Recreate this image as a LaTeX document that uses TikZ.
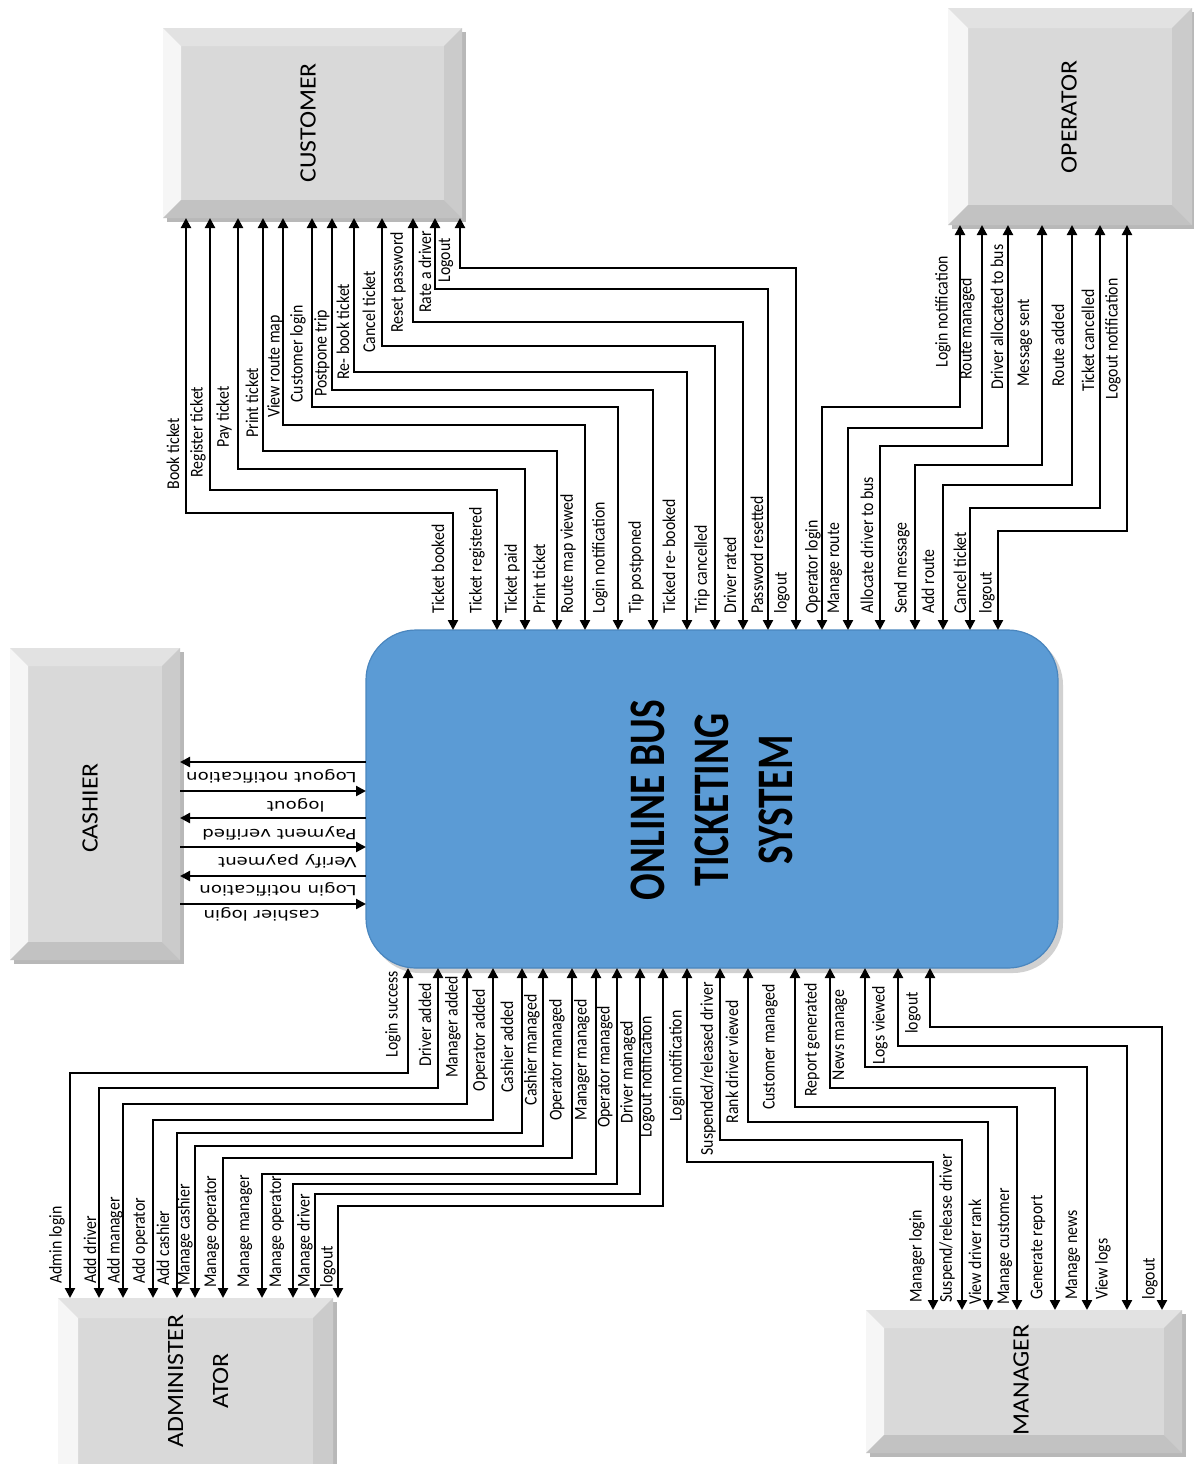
\documentclass[tikz,border=0pt]{standalone}
\usepackage{fontspec}
\usetikzlibrary{arrows.meta,fit}
\newfontfamily\lblfont[FakeStretch=0.88]{Carlito}
\newfontfamily\boxfont[FakeStretch=1.1]{Carlito}
\newfontfamily\titlefont[FakeStretch=0.77]{Carlito}
\newfontfamily\cashfont[FakeStretch=1.3]{DejaVu Sans}
\definecolor{sysblue}{HTML}{5B9BD5}
\definecolor{sysedge}{HTML}{4A86BE}
\definecolor{bface}{HTML}{D9D9D9}
\definecolor{btop}{HTML}{E2E2E2}
\definecolor{bleft}{HTML}{F6F6F6}
\definecolor{bright}{HTML}{CBCBCB}
\definecolor{bbot}{HTML}{C2C2C2}
\definecolor{bshadow}{HTML}{B8B8B8}
\newcounter{lbn}
\newcommand{\dlab}[3]{\stepcounter{lbn}\node[lbl] (t\arabic{lbn}) at (#1,#2) {#3};}
\newcommand{\dlabc}[3]{\stepcounter{lbn}\node[lblc] (t\arabic{lbn}) at (#1,#2) {#3};}
\newcommand{\dlabk}[3]{\stepcounter{lbn}\node[cashlbl] (t\arabic{lbn}) at (#1,#2) {#3};}
\newcommand{\dflow}[5]{\draw[flow] (#2,0 |- #1) -- (#2,#3) -- (#4,#3) -- (#4,0 |- #5);}
\newcommand{\bevbox}[5]{%
  \fill[bshadow] (#1+4,#2+4) rectangle (#3+4,#4+4);
  \fill[bface] (#1,#2) rectangle (#3,#4);
  \fill[btop] (#1,#2) -- (#3,#2) -- (#3-#5,#2+#5) -- (#1+#5,#2+#5) -- cycle;
  \fill[bleft] (#1,#2) -- (#1+#5,#2+#5) -- (#1+#5,#4-#5) -- (#1,#4) -- cycle;
  \fill[bright] (#3,#2) -- (#3,#4) -- (#3-#5,#4-#5) -- (#3-#5,#2+#5) -- cycle;
  \fill[bbot] (#1,#4) -- (#3,#4) -- (#3-#5,#4-#5) -- (#1+#5,#4-#5) -- cycle;
}
\begin{document}
\begin{tikzpicture}[x=0.5pt,y=-0.5pt,
  >={Triangle[length=5pt,width=5pt]},
  flow/.style={line width=1.1pt,<->},
  cflow/.style={line width=1.1pt},
  lbl/.style={rotate=90,anchor=west,inner sep=0pt,font=\lblfont\fontsize{9}{10}\selectfont},
  lblc/.style={lbl,anchor=center},
  cashlbl/.style={rotate=180,anchor=west,inner sep=0pt,font=\cashfont\fontsize{7}{8}\selectfont},
  boxlbl/.style={rotate=90,inner sep=0pt,align=center,font=\boxfont\fontsize{11.7}{22.5}\selectfont},
  hold/.style={inner sep=0pt,outer sep=0pt}]
\useasboundingbox (0,0) rectangle (1194,1464);
\clip (0,0) rectangle (1194,1464);
\fill[white] (0,0) rectangle (1194,1464);

% ---- external entity boxes
\bevbox{163}{28}{462}{218}{18}
\node[hold,fit={(163,28) (462,218)}] (cust) {};
\node[boxlbl] (custl) at (308,123) {CUSTOMER};

\bevbox{948}{8}{1192}{225}{20}
\node[hold,fit={(948,8) (1192,225)}] (oper) {};
\node[boxlbl] (operl) at (1069,117) {OPERATOR};

\bevbox{10}{648}{180}{960}{18}
\node[hold,fit={(10,648) (180,960)}] (cash) {};
\node[boxlbl] (cashl) at (90,808) {CASHIER};

\bevbox{58}{1298}{333}{1490}{20}
\node[hold,fit={(58,1298) (333,1490)}] (adm) {};
\node[boxlbl] (adml) at (198,1381) {ADMINISTER\\ATOR};

\bevbox{866}{1310}{1182}{1453}{18}
\node[hold,fit={(866,1310) (1182,1453)}] (mgr) {};
\node[boxlbl] (mgrl) at (1021,1380) {MANAGER};

% ---- central process
\fill[black!18,rounded corners=25pt] (370,635) rectangle (1063,973);
\node[hold,fit={(366,630) (1058,968)},rounded corners=25pt,fill=sysblue,draw=sysedge,line width=0.6pt] (sys) {};
\node[rotate=90,align=center,inner sep=0pt,font=\titlefont\bfseries\fontsize{25.6}{32}\selectfont] (title) at (712,800) {ONLINE BUS\\TICKETING\\SYSTEM};

% ---- customer flows
\dflow{cust.south}{186}{513}{453}{sys.north}
\dflow{cust.south}{210}{490}{497}{sys.north}
\dflow{cust.south}{238}{469}{525}{sys.north}
\dflow{cust.south}{263}{451}{557}{sys.north}
\dflow{cust.south}{283}{425}{585}{sys.north}
\dflow{cust.south}{312}{407}{618}{sys.north}
\dflow{cust.south}{332}{390}{653}{sys.north}
\dflow{cust.south}{354}{372}{687}{sys.north}
\dflow{cust.south}{382}{346}{715}{sys.north}
\dflow{cust.south}{413}{322}{743}{sys.north}
\dflow{cust.south}{435}{289}{768}{sys.north}
\dflow{cust.south}{460}{268}{796}{sys.north}

\dlab{173}{490}{Book ticket}
\dlab{198}{478}{Register ticket}
\dlab{224}{448}{Pay ticket}
\dlab{252}{438}{Print ticket}
\dlab{275}{418}{View route map}
\dlab{298}{403}{Customer login}
\dlab{322}{397}{Postpone trip}
\dlab{343}{380}{Re- book ticket}
\dlab{369}{353}{Cancel ticket}
\dlab{398}{333}{Reset password}
\dlab{425}{313}{Rate a driver}
\dlab{446}{283}{Logout}

\dlab{438}{614}{Ticket booked}
\dlab{477}{614}{Ticket registered}
\dlab{512}{614}{Ticket paid}
\dlab{539}{614}{Print ticket}
\dlab{568}{614}{Route map viewed}
\dlab{600}{614}{Login notification}
\dlab{636}{614}{Tip postponed}
\dlab{669}{614}{Ticked re- booked}
\dlab{702}{614}{Trip cancelled}
\dlab{730}{614}{Driver rated}
\dlab{757}{614}{Password resetted}
\dlab{782}{614}{logout}

% ---- operator flows
\dflow{oper.south}{960}{407}{822}{sys.north}
\dflow{oper.south}{982}{428}{848}{sys.north}
\dflow{oper.south}{1008}{446}{880}{sys.north}
\dflow{oper.south}{1042}{465}{915}{sys.north}
\dflow{oper.south}{1072}{485}{943}{sys.north}
\dflow{oper.south}{1100}{508}{970}{sys.north}
\dflow{oper.south}{1127}{531}{998}{sys.north}

\dlab{943}{368}{Login notification}
\dlab{967}{380}{Route managed}
\dlab{997}{390}{Driver allocated to bus}
\dlab{1025}{387}{Message sent}
\dlab{1058}{387}{Route added}
\dlab{1088}{392}{Ticket cancelled}
\dlab{1113}{400}{Logout notification}

\dlab{813}{614}{Operator login}
\dlab{835}{614}{Manage route}
\dlab{867}{614}{Allocate driver to bus}
\dlab{902}{614}{Send message}
\dlab{928}{614}{Add route}
\dlab{960}{614}{Cancel ticket}
\dlab{987}{614}{logout}

% ---- cashier flows
\draw[cflow,<-] (0,762 -| cash.east) -- (0,762 -| sys.west);
\draw[cflow,->] (0,791 -| cash.east) -- (0,791 -| sys.west);
\draw[cflow,<-] (0,818 -| cash.east) -- (0,818 -| sys.west);
\draw[cflow,->] (0,847 -| cash.east) -- (0,847 -| sys.west);
\draw[cflow,<-] (0,876 -| cash.east) -- (0,876 -| sys.west);
\draw[cflow,->] (0,904 -| cash.east) -- (0,904 -| sys.west);

\dlabk{357}{776}{Logout notification}
\dlabk{325}{805}{logout}
\dlabk{357}{833}{Payment verified}
\dlabk{357}{861}{Verify payment}
\dlabk{357}{889}{Login notification}
\dlabk{320}{914}{cashier login}

% ---- administrator flows
\dflow{adm.north}{70}{1073}{408}{sys.south}
\dflow{adm.north}{99}{1088}{438}{sys.south}
\dflow{adm.north}{123}{1104}{467}{sys.south}
\dflow{adm.north}{153}{1120}{493}{sys.south}
\dflow{adm.north}{177}{1133}{522}{sys.south}
\dflow{adm.north}{195}{1146}{543}{sys.south}
\dflow{adm.north}{223}{1158}{572}{sys.south}
\dflow{adm.north}{262}{1174}{596}{sys.south}
\dflow{adm.north}{293}{1184}{617}{sys.south}
\dflow{adm.north}{315}{1194}{640}{sys.south}
\dflow{adm.north}{338}{1206}{663}{sys.south}

\dlab{57}{1284}{Admin login}
\dlab{90}{1284}{Add driver}
\dlab{115}{1284}{Add manager}
\dlab{140}{1284}{Add operator}
\dlab{163}{1286}{Add cashier}
\dlab{185}{1286}{Manage cashier}
\dlab{212}{1288}{Manage operator}
\dlab{245}{1288}{Manage manager}
\dlab{277}{1288}{Manage operator}
\dlab{305}{1288}{Manage driver}
\dlab{328}{1288}{logout}

\dlabc{393}{1014}{Login success}
\dlabc{425}{1025}{Driver added}
\dlabc{453}{1027}{Manager added}
\dlabc{480}{1040}{Operator added}
\dlabc{507}{1047}{Cashier added}
\dlabc{532}{1050}{Cashier managed}
\dlabc{557}{1060}{Operator managed}
\dlabc{582}{1060}{Manager managed}
\dlabc{605}{1067}{Operator managed}
\dlabc{628}{1072}{Driver managed}
\dlabc{647}{1077}{Logout notification}

% ---- manager flows
\dflow{mgr.north}{933}{1162}{687}{sys.south}
\dflow{mgr.north}{962}{1140}{720}{sys.south}
\dflow{mgr.north}{988}{1122}{748}{sys.south}
\dflow{mgr.north}{1017}{1107}{795}{sys.south}
\dflow{mgr.north}{1055}{1088}{830}{sys.south}
\dflow{mgr.north}{1087}{1067}{865}{sys.south}
\dflow{mgr.north}{1127}{1046}{898}{sys.south}
\dflow{mgr.north}{1162}{1027}{930}{sys.south}

\dlabc{677}{1066}{Login notification}
\dlabc{708}{1069}{Suspended/released driver}
\dlabc{732}{1062}{Rank driver viewed}
\dlabc{770}{1047}{Customer managed}
\dlabc{812}{1040}{Report generated}
\dlabc{840}{1035}{News manage}
\dlabc{880}{1025}{Logs viewed}
\dlabc{913}{1013}{logout}

\dlab{917}{1303}{Manager login}
\dlab{947}{1303}{Suspend/release driver}
\dlab{975}{1305}{View driver rank}
\dlab{1005}{1305}{Manage customer}
\dlab{1038}{1300}{Generate report}
\dlab{1073}{1300}{Manage news}
\dlab{1103}{1300}{View logs}
\dlab{1150}{1300}{logout}
\end{tikzpicture}
\end{document}
